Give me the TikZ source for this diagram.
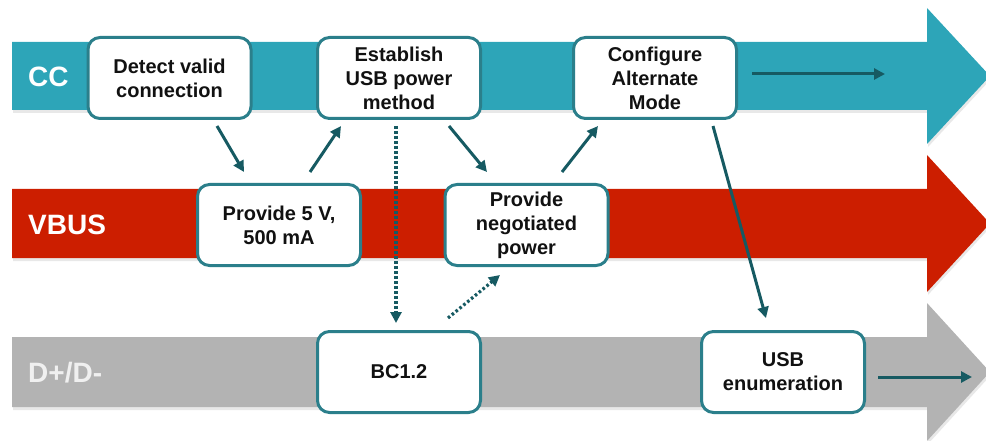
\documentclass[tikz,border=0pt]{standalone}
\usepackage{fontspec}
\setmainfont{Liberation Sans}
\usetikzlibrary{arrows.meta,shadows}
\definecolor{ccteal}{HTML}{2DA5B8}
\definecolor{vbred}{HTML}{CC1E00}
\definecolor{dgray}{HTML}{B3B3B3}
\definecolor{boxedge}{HTML}{2B7F8B}
\definecolor{arr}{HTML}{165A62}
\definecolor{txt}{HTML}{111111}
\tikzset{
  stepbox/.style={draw=boxedge, line width=3pt, fill=white, rounded corners=12pt,
    minimum width=163pt, minimum height=81pt, inner sep=0pt, align=center,
    text=txt, font=\fontsize{20}{24}\selectfont\bfseries},
  lanelabel/.style={anchor=west, inner sep=0pt, font=\fontsize{28}{30}\selectfont\bfseries},
  flow/.style={draw=arr, line width=3pt, -{Triangle[length=11pt,width=11pt]}},
  dflow/.style={draw=arr, line width=3.2pt, dash pattern=on 2.6pt off 2.4pt, -{Triangle[length=11pt,width=11pt]}},
  lane/.style={drop shadow={opacity=0.18, shadow xshift=1pt, shadow yshift=-3pt}}
}
\begin{document}
\begin{tikzpicture}[x=1pt,y=-1pt]
\useasboundingbox (0,0) rectangle (986,441);
% lanes
\fill[ccteal,lane] (12,42) -- (927,42) -- (927,8) -- (990,76) -- (927,144) -- (927,110) -- (12,110) -- cycle;
\fill[vbred,lane] (12,189) -- (927,189) -- (927,155) -- (990,223.5) -- (927,292) -- (927,258) -- (12,258) -- cycle;
\fill[dgray,lane] (12,337) -- (927,337) -- (927,303) -- (990,372) -- (927,441) -- (927,407) -- (12,407) -- cycle;
\node[lanelabel, text=white] (lcc) at (28,77) {CC};
\node[lanelabel, text=white] (lvb) at (28,225) {VBUS};
\node[lanelabel, text=white!94!black] (ld) at (28,373) {D+/D-};
% boxes
\node[stepbox] (det) at (169.5,78) {Detect valid\\connection};
\node[stepbox] (est) at (399,78) {Establish\\USB power\\method};
\node[stepbox] (cfg) at (655,78) {Configure\\Alternate\\Mode};
\node[stepbox] (p5) at (279,225) {Provide 5 V,\\500 mA};
\node[stepbox] (neg) at (526.5,225) {Provide\\negotiated\\power};
\node[stepbox] (bc) at (399,372) {BC1.2};
\node[stepbox] (usb) at (783,372) {USB\\enumeration};
\coordinate (ccend) at (885,74);
\coordinate (dend) at (972,377);
% connectors
\draw[flow] ([shift={(47.5,6)}]det.south) -- ([shift={(-35,-11)}]p5.north);
\draw[flow] ([shift={(31,-11)}]p5.north) -- ([shift={(-58,6)}]est.south);
\draw[flow] ([shift={(50,6)}]est.south) -- ([shift={(-39.5,-11)}]neg.north);
\draw[flow] ([shift={(35.5,-11)}]neg.north) -- ([shift={(-57,6)}]cfg.south);
\draw[flow] ([shift={(58,6)}]cfg.south) -- ([shift={(-17,-12)}]usb.north);
\draw[flow] ([shift={(14,-4)}]cfg.east) -- (ccend);
\draw[flow] ([shift={(12,5)}]usb.east) -- (dend);
\draw[dflow] ([shift={(-3,6)}]est.south) -- ([shift={(-3,-7)}]bc.north);
\draw[dflow] ([shift={(49,-12)}]bc.north) -- ([shift={(-26.5,8)}]neg.south);
\end{tikzpicture}
\end{document}
